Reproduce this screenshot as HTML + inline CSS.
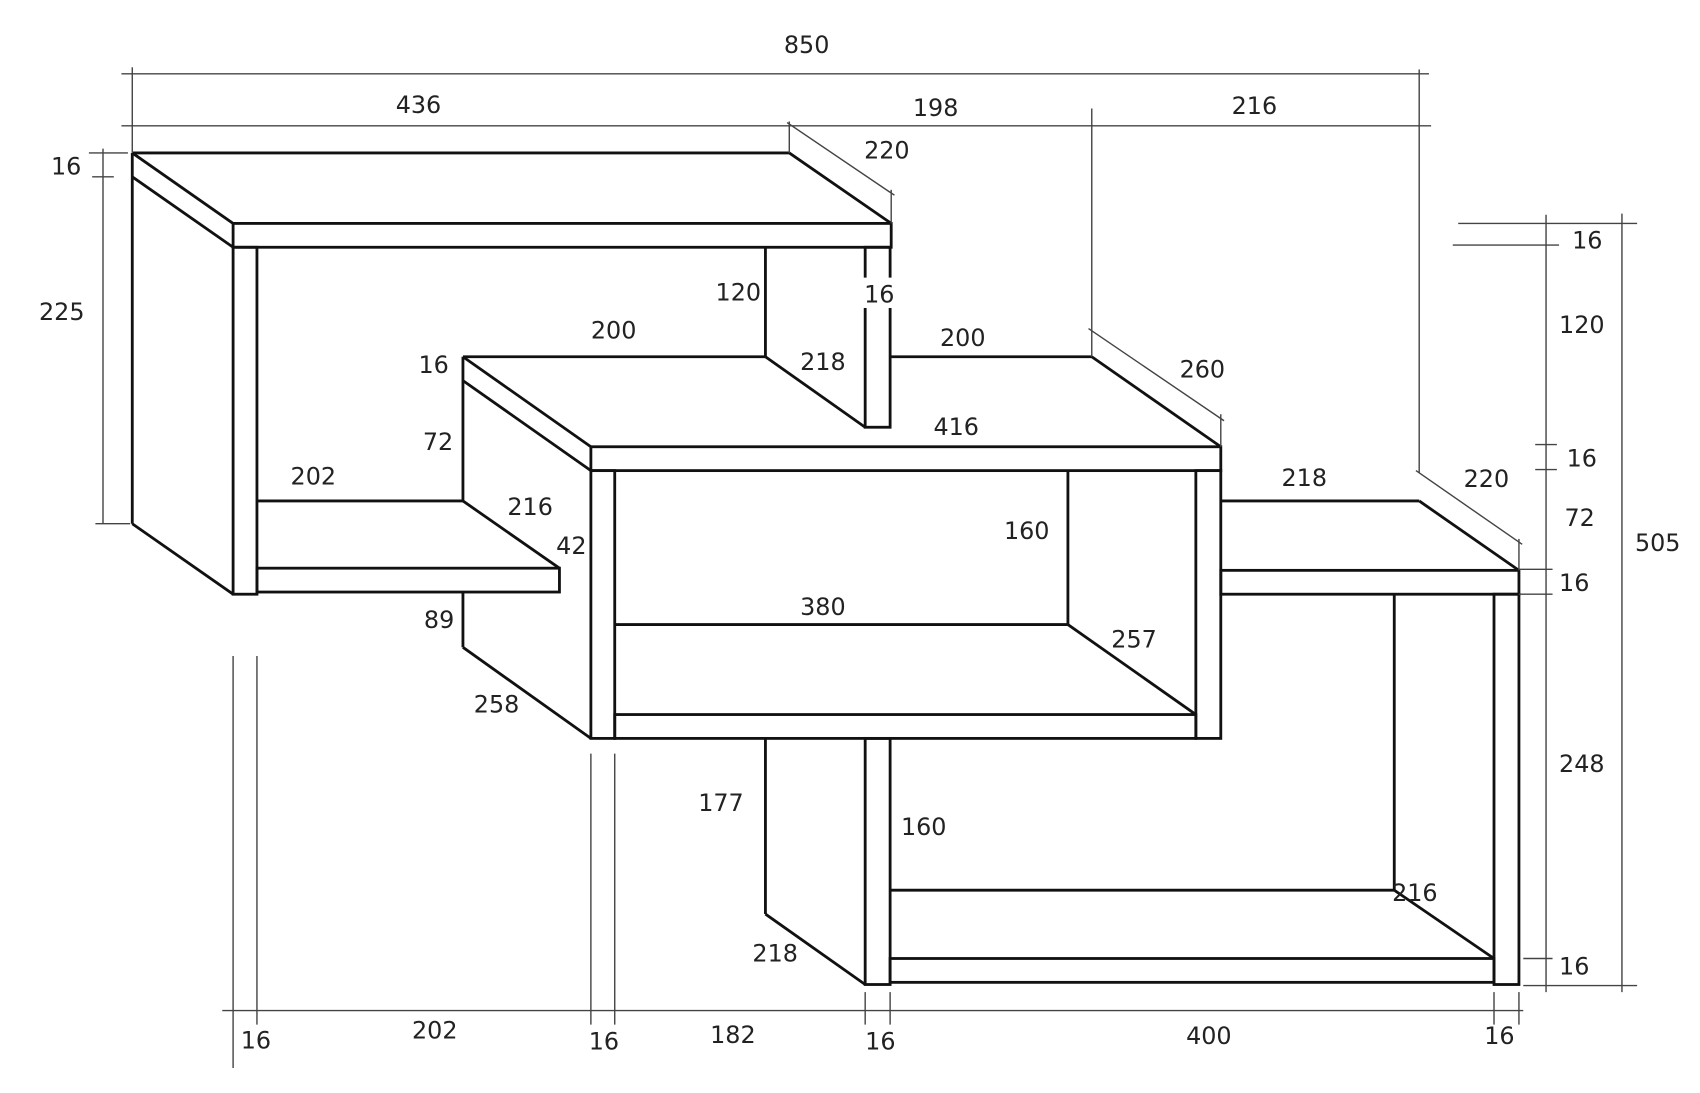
<!DOCTYPE html>
<html><head><meta charset="utf-8"><style>
html,body{margin:0;padding:0;background:#fff;}
svg{display:block;}
text{font-family:"DejaVu Sans","Liberation Sans",sans-serif;font-size:22px;fill:#222;}
.t{stroke:#111;stroke-width:2.6;fill:none;stroke-linejoin:miter;}
.d{stroke:#444;stroke-width:1.3;fill:none;}
</style></head><body>
<svg width="1700" height="1093" viewBox="0 0 1568 1008" xmlns="http://www.w3.org/2000/svg">
<g class="t">
<polyline points="122,141 728,141 822,206"/>
<line x1="122" y1="141" x2="215" y2="206"/>
<rect x="215" y="206" width="607" height="22"/>
<line x1="122" y1="163" x2="215" y2="228"/>
<line x1="122" y1="141" x2="122" y2="483"/>
<line x1="122" y1="483" x2="215" y2="548"/>
<rect x="215" y="228" width="22" height="320"/>
<line x1="706" y1="228" x2="706" y2="329"/>
<line x1="706" y1="329" x2="798" y2="394"/>
<rect x="798" y="228" width="23" height="166"/>
<line x1="237" y1="462" x2="427" y2="462"/>
<line x1="427" y1="462" x2="516" y2="524"/>
<rect x="237" y="524" width="279" height="22"/>
<line x1="427" y1="329" x2="706" y2="329"/>
<line x1="821" y1="329" x2="1007" y2="329"/>
<line x1="1007" y1="329" x2="1126" y2="412"/>
<line x1="427" y1="329" x2="545" y2="412"/>
<line x1="427" y1="351" x2="545" y2="434"/>
<line x1="427" y1="329" x2="427" y2="462"/>
<line x1="427" y1="546" x2="427" y2="597"/>
<line x1="427" y1="597" x2="545" y2="681"/>
<rect x="545" y="412" width="581" height="22"/>
<rect x="545" y="434" width="22" height="247"/>
<rect x="1103" y="434" width="23" height="247"/>
<rect x="567" y="659" width="536" height="22"/>
<line x1="985" y1="434" x2="985" y2="576"/>
<line x1="567" y1="576" x2="985" y2="576"/>
<line x1="985" y1="576" x2="1103" y2="659"/>
<line x1="1126" y1="462" x2="1309" y2="462"/>
<line x1="1309" y1="462" x2="1401" y2="526"/>
<rect x="1126" y="526" width="275" height="22"/>
<rect x="1378" y="548" width="23" height="360"/>
<line x1="1286" y1="548" x2="1286" y2="821"/>
<line x1="821" y1="821" x2="1286" y2="821"/>
<line x1="1286" y1="821" x2="1378" y2="884"/>
<rect x="821" y="884" width="557" height="22"/>
<rect x="798" y="681" width="23" height="227"/>
<line x1="706" y1="681" x2="706" y2="843"/>
<line x1="706" y1="843" x2="798" y2="908"/>
</g>
<rect x="796" y="256" width="28" height="28" fill="#fff"/>
<g class="d">
<line x1="112" y1="68" x2="1318" y2="68"/>
<line x1="122" y1="62" x2="122" y2="141"/>
<line x1="1309" y1="64" x2="1309" y2="436"/>
<line x1="112" y1="116" x2="1320" y2="116"/>
<line x1="728" y1="112" x2="728" y2="141"/>
<line x1="726" y1="113" x2="825" y2="180"/>
<line x1="822" y1="175" x2="822" y2="206"/>
<line x1="1007" y1="100" x2="1007" y2="329"/>
<line x1="1004" y1="303" x2="1129" y2="388"/>
<line x1="1126" y1="382" x2="1126" y2="412"/>
<line x1="1306" y1="434" x2="1404" y2="502"/>
<line x1="1401" y1="497" x2="1401" y2="526"/>
<line x1="95" y1="137" x2="95" y2="483"/>
<line x1="82" y1="141" x2="118" y2="141"/>
<line x1="85" y1="163" x2="105" y2="163"/>
<line x1="88" y1="483" x2="120" y2="483"/>
<line x1="1426" y1="198" x2="1426" y2="915"/>
<line x1="1496" y1="197" x2="1496" y2="915"/>
<line x1="1345" y1="206" x2="1510" y2="206"/>
<line x1="1340" y1="226" x2="1438" y2="226"/>
<line x1="1416" y1="410" x2="1436" y2="410"/>
<line x1="1416" y1="433" x2="1436" y2="433"/>
<line x1="1401" y1="525" x2="1432" y2="525"/>
<line x1="1401" y1="548" x2="1432" y2="548"/>
<line x1="1405" y1="884" x2="1432" y2="884"/>
<line x1="1405" y1="909" x2="1510" y2="909"/>
<line x1="205" y1="932" x2="1405" y2="932"/>
<line x1="215" y1="605" x2="215" y2="985"/>
<line x1="237" y1="605" x2="237" y2="945"/>
<line x1="545" y1="695" x2="545" y2="945"/>
<line x1="567" y1="695" x2="567" y2="945"/>
<line x1="798" y1="915" x2="798" y2="945"/>
<line x1="821" y1="915" x2="821" y2="945"/>
<line x1="1378" y1="915" x2="1378" y2="945"/>
<line x1="1401" y1="915" x2="1401" y2="945"/>
</g>
<g>
<text x="723" y="49">850</text>
<text x="365" y="104">436</text>
<text x="842" y="107">198</text>
<text x="1136" y="105">216</text>
<text x="797" y="146">220</text>
<text x="47" y="161">16</text>
<text x="36" y="295">225</text>
<text x="660" y="277">120</text>
<text x="797" y="279">16</text>
<text x="545" y="312">200</text>
<text x="867" y="319">200</text>
<text x="738" y="341">218</text>
<text x="386" y="344">16</text>
<text x="1088" y="348">260</text>
<text x="861" y="401">416</text>
<text x="390" y="415">72</text>
<text x="268" y="447">202</text>
<text x="468" y="475">216</text>
<text x="513" y="511">42</text>
<text x="926" y="497">160</text>
<text x="1182" y="448">218</text>
<text x="1350" y="449">220</text>
<text x="391" y="579">89</text>
<text x="738" y="567">380</text>
<text x="1025" y="597">257</text>
<text x="437" y="657">258</text>
<text x="644" y="748">177</text>
<text x="831" y="770">160</text>
<text x="694" y="887">218</text>
<text x="1284" y="831">216</text>
<text x="1450" y="229">16</text>
<text x="1438" y="307">120</text>
<text x="1445" y="430">16</text>
<text x="1443" y="485">72</text>
<text x="1438" y="545">16</text>
<text x="1508" y="508">505</text>
<text x="1438" y="712">248</text>
<text x="1438" y="899">16</text>
<text x="222" y="967">16</text>
<text x="380" y="958">202</text>
<text x="543" y="968">16</text>
<text x="655" y="962">182</text>
<text x="798" y="968">16</text>
<text x="1094" y="963">400</text>
<text x="1369" y="963">16</text>
</g>
</svg>
</body></html>
